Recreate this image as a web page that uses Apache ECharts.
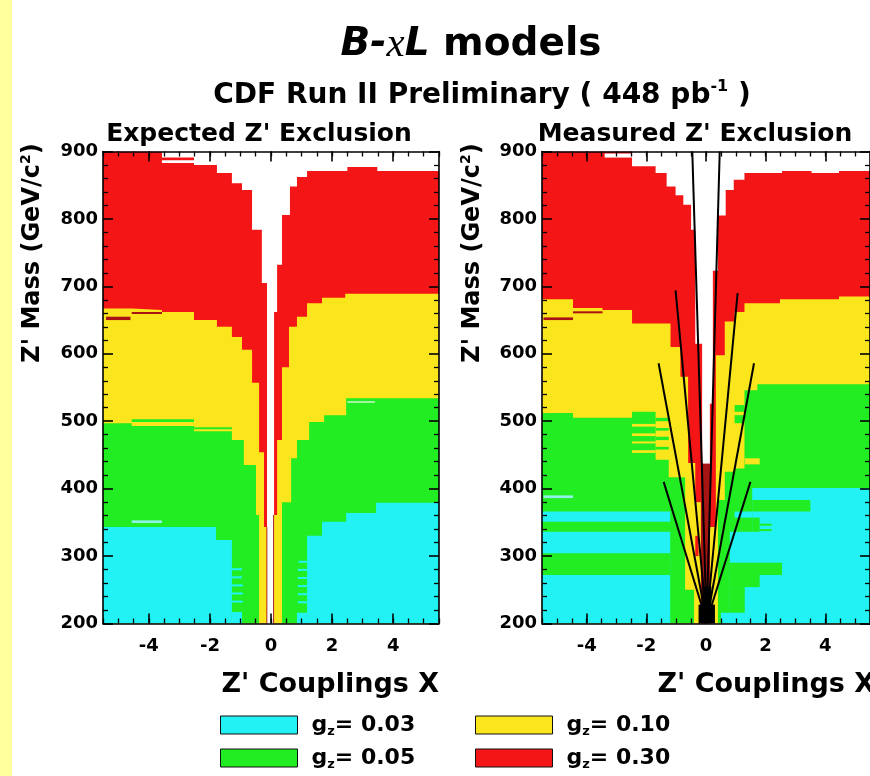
<!DOCTYPE html>
<html><head><meta charset="utf-8">
<script src="https://cdn.jsdelivr.net/npm/echarts@6/dist/echarts.min.js"></script>
<style>html,body{margin:0;padding:0;background:#fff}#c{width:870px;height:776px}</style>
</head><body><div id="c"></div>
<script>
// ---------------- DATA ----------------
const xTicks = [-4, -2, 0, 2, 4];
const couplings = ['0.03', '0.05', '0.10', '0.30'];
const panelTitles = ["Expected Z' Exclusion", "Measured Z' Exclusion"];

// Expected panel: step boundaries [x where bin starts, upper mass of the region]
const expRedTop = [[-5.5,900],[-3.57,883],[-2.52,880],[-1.77,868],[-1.28,853],[-0.95,843],[-0.62,784],[-0.30,705],[-0.13,200],[0.10,662],[0.20,732],[0.36,806],[0.62,848],[0.85,862],[1.18,871],[2.5,877],[3.48,871],[5.5,871]];
const expYellowTop = [[-5.5,667],[-4.56,665],[-3.57,662],[-2.52,650],[-1.77,640],[-1.28,625],[-0.95,606],[-0.62,557],[-0.39,454],[-0.23,343],[-0.13,200],[0.10,361],[0.20,472],[0.36,580],[0.59,640],[0.85,655],[1.18,675],[1.67,683],[2.43,689],[5.5,689]];
const expGreenTop = [[-5.5,497],[-4.56,493],[-2.52,485],[-1.28,472],[-0.89,435],[-0.49,361],[-0.39,200],[0.36,380],[0.66,445],[0.85,472],[1.25,499],[1.74,509],[2.46,534],[5.5,534]];
const expCyanTop = [[-5.5,343],[-1.8,324],[-1.28,200],[1.18,330],[1.67,351],[2.46,364],[3.44,379],[5.5,379]];
// stray cells: [x0, x1, m0, m1, colour]
const expStripes = [
  [-5.4,-4.6,650,655,'dark'],[-4.56,-3.57,659,662,'dark'],[-3.57,-2.52,887,891,'red'],
  [-4.56,-2.52,499,503,'green'],[-2.52,-1.28,488,491,'green'],[-4.56,-3.57,349,353,'lcyan'],
  [-1.28,-0.95,200,217,'cyan'],[-1.28,-0.92,231,234,'cyan'],[-1.28,-0.92,243,246,'cyan'],
  [-1.28,-0.92,255,258,'cyan'],[-1.28,-0.95,267,270,'cyan'],[-1.28,-0.95,279,282,'cyan'],
  [0.85,1.18,200,216,'cyan'],[0.88,1.18,230,233,'cyan'],[0.88,1.18,242,245,'cyan'],
  [0.88,1.18,254,257,'cyan'],[0.88,1.18,266,269,'cyan'],[0.88,1.18,278,281,'cyan'],[0.9,1.18,290,293,'cyan'],
  [2.5,3.4,527,530,'lgreen'],
  [-0.15,-0.12,200,343,'dark'],[0.07,0.10,200,361,'dark']
];

// Measured panel
const meaRedTop = [[-5.5,900],[-2.48,878],[-1.69,868],[-1.32,848],[-1.02,835],[-0.76,821],[-0.5,784],[-0.36,615],[-0.13,437],[0.13,526],[0.23,723],[0.4,805],[0.66,843],[0.93,858],[1.29,868],[2.55,871],[3.54,868],[4.46,871],[5.5,871]];
const meaYellowTop = [[-5.5,681],[-4.46,668],[-3.47,665],[-2.48,645],[-1.19,610],[-0.86,566],[-0.6,438],[-0.17,200],[0.13,343],[0.33,598],[0.63,648],[0.96,662],[1.29,675],[2.48,681],[4.46,685],[5.5,685]];
const meaGreenTop = [[-5.5,512],[-4.46,505],[-2.48,514],[-1.69,443],[-1.25,417],[-0.7,250],[-0.4,200],[0.4,383],[0.63,425],[0.96,430],[1.29,546],[1.72,555],[5.5,555]];
const meaCyanTop = [[-5.5,366],[-1.2,200],[0.5,216],[0.8,336],[1.55,401],[5.5,401]];
const meaStripes = [
  [-3.4,-2.48,891,897,'white'],[-5.45,-4.46,650,654,'dark'],[-4.46,-3.47,660,663,'dark'],
  [-2.48,-1.69,492,496,'yellow'],[-2.48,-1.69,478,482,'yellow'],[-2.48,-1.69,467,470,'yellow'],[-2.48,-1.69,453,457,'yellow'],
  [-1.69,-1.25,500,505,'green'],[-1.69,-1.25,486,490,'green'],[-1.69,-1.25,472,477,'green'],[-1.69,-1.25,458,462,'green'],
  [-5.45,-4.46,386,390,'lcyan'],[-5.5,-1.0,336,351,'green'],[-5.5,-1.2,272,304,'green'],
  [0.8,1.3,216,254,'green'],[0.8,1.8,254,272,'green'],[0.8,2.55,272,290,'green'],
  [1.55,1.8,336,357,'green'],[1.8,2.2,337,340,'green'],[1.8,2.2,345,348,'green'],
  [0.96,1.55,357,366,'cyan'],[1.55,3.5,366,383,'green'],
  [0.96,1.29,514,524,'green'],[0.96,1.29,497,509,'green'],[1.3,1.8,436,445,'yellow'],
  [-0.36,-0.17,380,440,'red'],[-0.36,-0.25,300,330,'red'],
  [-0.17,0.13,200,437,'dark'],
  [-0.25,0.3,200,228,'black'],[-0.12,0.18,228,255,'black']
];
// fan of straight lines in the measured panel
const fanOrigin = [0.02, 203];
const fanEnds = [[-1.59,586],[-1.02,694],[-1.42,410],[1.61,586],[1.06,690],[1.49,410],[-0.46,900],[0.46,900]];

// ---------------- STYLE ----------------
const FONT = 'DejaVu Sans';
const COL = {cyan:'#22f2f4', green:'#22ec22', yellow:'#fbe61e', red:'#f41616', dark:'#a81414',
  white:'#ffffff', lcyan:'#90f2e6', lgreen:'#a0f4a0', black:'#000000'};
const levelColors = [COL.cyan, COL.green, COL.yellow, COL.red];
const names = couplings.map(c => 'g_z = ' + c);

const grids = [
  {left:103, top:151.5, width:336, height:472},
  {left:542, top:151.5, width:333, height:472}
];

function xAxesFor(gi) {
  const base = {gridIndex:gi, type:'value', min:-5.5, max:5.5, splitLine:{show:false}, z:5, silent:true};
  const line = {show:true, onZero:false, lineStyle:{color:'#000', width:1.6}};
  return [
    Object.assign({}, base, {position:'bottom', interval:0.5, axisLine:line,
      axisTick:{inside:true, length:5, lineStyle:{color:'#000', width:1.3}}, axisLabel:{show:false}}),
    Object.assign({}, base, {position:'bottom', axisLine:{show:false, onZero:false},
      axisTick:{inside:true, length:10, customValues:xTicks, lineStyle:{color:'#000', width:1.6}},
      axisLabel:{customValues:xTicks, fontFamily:FONT, fontWeight:'bold', fontSize:18, color:'#000', margin:14}}),
    Object.assign({}, base, {position:'top', interval:0.5, axisLine:line,
      axisTick:{inside:true, length:5, lineStyle:{color:'#000', width:1.3}}, axisLabel:{show:false}}),
    Object.assign({}, base, {position:'top', axisLine:{show:false, onZero:false},
      axisTick:{inside:true, length:10, customValues:xTicks, lineStyle:{color:'#000', width:1.6}}, axisLabel:{show:false}})
  ];
}
function yAxesFor(gi) {
  const base = {gridIndex:gi, type:'value', min:200, max:900, interval:100, splitLine:{show:false}, z:5, silent:true,
    axisLine:{show:true, onZero:false, lineStyle:{color:'#000', width:1.6}},
    axisTick:{inside:true, length:10, lineStyle:{color:'#000', width:1.6}},
    minorTick:{show:true, splitNumber:5, length:5, lineStyle:{color:'#000', width:1.3}}};
  return [
    Object.assign({}, base, {position:'left', axisLabel:{fontFamily:FONT, fontWeight:'bold', fontSize:18, color:'#000', margin:5}}),
    Object.assign({}, base, {position:'right', axisLabel:{show:false}})
  ];
}

function areaSeries(name, steps, color, xi, yi) {
  return {type:'line', name, xAxisIndex:xi, yAxisIndex:yi, step:'end', symbol:'none', showSymbol:false,
    data: steps.map(p => [p[0], p[1]]), lineStyle:{width:0}, itemStyle:{color},
    areaStyle:{color, opacity:1, origin:'start'}, silent:true, z:1, animation:false};
}
function stripeSeries(stripes, xi, yi) {
  return {type:'custom', xAxisIndex:xi, yAxisIndex:yi, silent:true, z:3,
    data: stripes.map(s => [s[0], s[1], s[2], s[3]]),
    encode:{x:[0,1], y:[2,3]},
    renderItem: (params, api) => {
      const s = stripes[params.dataIndex];
      const p0 = api.coord([api.value(0), api.value(3)]);
      const p1 = api.coord([api.value(1), api.value(2)]);
      return {type:'rect', shape:{x:p0[0], y:p0[1], width:p1[0]-p0[0], height:p1[1]-p0[1]}, style:{fill:COL[s[4]]}};
    }};
}
function panelSeries(tops, stripes, xi, yi) {
  // paint from the largest region (red) down to the smallest (cyan)
  const out = [];
  for (let k = 3; k >= 0; k--) out.push(areaSeries(names[k], tops[k], levelColors[k], xi, yi));
  out.push(stripeSeries(stripes, xi, yi));
  return out;
}

const series = [].concat(
  panelSeries([expCyanTop, expGreenTop, expYellowTop, expRedTop], expStripes, 0, 0),
  panelSeries([meaCyanTop, meaGreenTop, meaYellowTop, meaRedTop], meaStripes, 4, 2),
  fanEnds.map(e => ({type:'line', xAxisIndex:4, yAxisIndex:2, symbol:'none', silent:true, z:4,
    data:[[fanOrigin[0], fanOrigin[1]], [e[0], e[1]]], lineStyle:{color:'#000', width:2}}))
);

const legendRich = {
  g:{fontFamily:FONT, fontWeight:'bold', fontSize:22, color:'#000', lineHeight:26, padding:[0,0,0,9]},
  s:{fontFamily:FONT, fontWeight:'bold', fontSize:13, color:'#000', lineHeight:12, verticalAlign:'bottom'},
  t:{fontFamily:FONT, fontWeight:'bold', fontSize:22, color:'#000', lineHeight:26}
};
function legendFor(left, idxs) {
  return {orient:'vertical', left, top:709, itemWidth:77, itemHeight:18, itemGap:9, selectedMode:false, icon:'rect',
    itemStyle:{borderColor:'#111', borderWidth:1},
    data: idxs.map(i => ({name:names[i], icon:'rect', itemStyle:{color:levelColors[i], borderColor:'#111', borderWidth:1}})),
    formatter: n => '{g|g}{s|z}{t|= ' + n.split('= ')[1] + '}',
    textStyle:{rich:legendRich}};
}

const txt = (s) => Object.assign({fontFamily:FONT, fontWeight:'bold', fill:'#000'}, s);
const yLabelRich = {a: txt({fontSize:24, lineHeight:28}), sup: txt({fontSize:14, lineHeight:14, verticalAlign:'top'})};
const graphic = [
  {type:'rect', left:0, top:0, shape:{x:0, y:0, width:12, height:776}, style:{fill:'#ffff9e'}, z:-1},
  {type:'text', x:471, y:45, style:{text:'{bi|B-}{xi|x}{bi|L}{b| models}', align:'center', verticalAlign:'middle',
    rich:{bi: txt({fontSize:39, fontStyle:'italic'}), xi:{fontFamily:'Liberation Serif', fontStyle:'italic', fontSize:41, fill:'#000'}, b: txt({fontSize:39})}}},
  {type:'text', x:482, y:96, style:{text:'{a|CDF Run II Preliminary ( 448 pb}{sup|-1}{a| )}', align:'center', verticalAlign:'middle',
    rich:{a: txt({fontSize:28, lineHeight:34}), sup: txt({fontSize:16, lineHeight:16, verticalAlign:'top'})}}},
  {type:'text', x:259, y:134, style:Object.assign(txt({fontSize:25}), {text:panelTitles[0], align:'center', verticalAlign:'middle'})},
  {type:'text', x:695, y:134, style:Object.assign(txt({fontSize:25}), {text:panelTitles[1], align:'center', verticalAlign:'middle'})},
  {type:'text', x:33, y:253, rotation:Math.PI/2, style:{text:"{a|Z' Mass (GeV/c}{sup|2}{a|)}", align:'center', verticalAlign:'middle', rich:yLabelRich}},
  {type:'text', x:473, y:253, rotation:Math.PI/2, style:{text:"{a|Z' Mass (GeV/c}{sup|2}{a|)}", align:'center', verticalAlign:'middle', rich:yLabelRich}},
  {type:'text', x:439, y:685, style:Object.assign(txt({fontSize:27}), {text:"Z' Couplings X", align:'right', verticalAlign:'middle'})},
  {type:'text', x:875, y:685, style:Object.assign(txt({fontSize:27}), {text:"Z' Couplings X", align:'right', verticalAlign:'middle'})}
];

const option = {
  animation:false,
  backgroundColor:'#ffffff',
  grid: grids,
  xAxis: [].concat(xAxesFor(0), xAxesFor(1)),
  yAxis: [].concat(yAxesFor(0), yAxesFor(1)),
  legend: [legendFor(215, [0, 1]), legendFor(470, [2, 3])],
  series,
  graphic
};
const chart = echarts.init(document.getElementById('c'), null, {renderer:'canvas'});
chart.setOption(option);
</script>
</body></html>
